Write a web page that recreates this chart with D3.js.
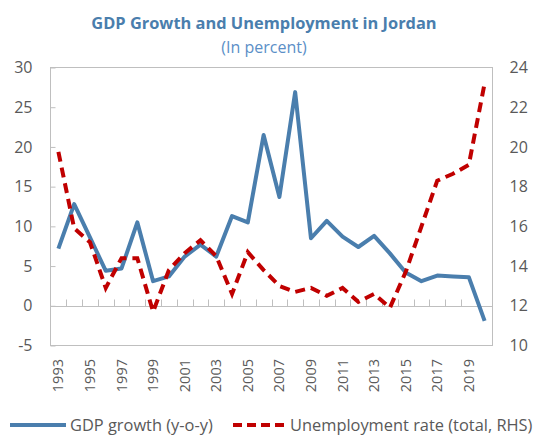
<!DOCTYPE html>
<html>
<head>
<meta charset="utf-8">
<script src="https://cdn.jsdelivr.net/npm/d3@7"></script>
<style>
  body { margin: 0; background: #fff; }
  text { font-family: "Open Sans", "Noto Sans", sans-serif; }
</style>
</head>
<body>
<div id="chart"></div>
<script>
// data
var years = d3.range(1993, 2021);
var gdpGrowth = [7.2, 12.8, 8.6, 4.4, 4.7, 10.5, 3.1, 3.7, 6.2, 7.7, 6.2, 11.3, 10.5, 21.5,
                 13.7, 26.9, 8.5, 10.7, 8.7, 7.4, 8.8, 6.6, 4.2, 3.1, 3.8, 3.7, 3.6, -1.9];
var unemployment = [19.75, 15.9, 15.2, 12.9, 14.4, 14.4, 11.7, 13.8, 14.65, 15.3, 14.5, 12.6, 14.7, 13.8,
                    13.0, 12.7, 12.9, 12.5, 12.9, 12.2, 12.6, 11.9, 13.7, 16.0, 18.3, 18.65, 19.1, 23.2];
var leftTicks = [-5, 0, 5, 10, 15, 20, 25, 30];
var rightTicks = [10, 12, 14, 16, 18, 20, 22, 24];
var yearLabels = years.filter(function(y) { return (y - 1993) % 2 == 0 && y < 2020; });

var w = 535, h = 435;
var pLeft = 50.5, pRight = 492.5, pTop = 67.5, pBottom = 345.5;

var svg = d3.select("#chart").append("svg")
  .attr("width", w)
  .attr("height", h);

var x = d3.scaleBand().domain(years).range([pLeft, pRight]);
var y = d3.scaleLinear().domain([-5, 30]).range([pBottom, pTop]);
var y2 = d3.scaleLinear().domain([10, 24]).range([pBottom, pTop]);

// title
svg.append("text")
  .attr("x", 264).attr("y", 29)
  .attr("text-anchor", "middle")
  .attr("font-size", 16.4).attr("font-weight", "bold")
  .attr("fill", "#4a7ead")
  .text("GDP Growth and Unemployment in Jordan");
svg.append("text")
  .attr("x", 264).attr("y", 53)
  .attr("text-anchor", "middle")
  .attr("font-size", 16)
  .attr("fill", "#5b8fc7")
  .text("(In percent)");

// plot frame
svg.append("rect")
  .attr("x", pLeft).attr("y", pTop)
  .attr("width", pRight - pLeft).attr("height", pBottom - pTop)
  .attr("fill", "none").attr("stroke", "#bfbfbf");

// left axis (plain hyphen for negatives, like the original)
var yAxis = d3.axisLeft(y).tickValues(leftTicks).tickSize(-5).tickPadding(18)
  .tickFormat(function(d) { return String(d); });
var gy = svg.append("g").attr("transform", "translate(" + pLeft + ",0)").call(yAxis);
gy.select(".domain").remove();
gy.selectAll("line").attr("stroke", "#bfbfbf");
gy.selectAll("text").attr("font-size", 16).attr("fill", "#595959")
  .attr("font-family", "Open Sans, sans-serif");

// right axis
var yAxis2 = d3.axisRight(y2).tickValues(rightTicks).tickSize(0).tickPadding(17);
var gy2 = svg.append("g").attr("transform", "translate(" + pRight + ",0)").call(yAxis2);
gy2.select(".domain").remove();
gy2.selectAll("text").attr("font-size", 16).attr("fill", "#595959")
  .attr("font-family", "Open Sans, sans-serif");

// zero line with category ticks
var zeroY = Math.round(y(0)) + 0.5;
svg.append("line")
  .attr("x1", pLeft).attr("x2", pRight)
  .attr("y1", zeroY).attr("y2", zeroY)
  .attr("stroke", "#bfbfbf");
svg.selectAll(".xtick")
  .data(years.slice(1))
  .enter().append("line")
  .attr("class", "xtick")
  .attr("x1", function(d) { return Math.round(x(d)) + 0.5; })
  .attr("x2", function(d) { return Math.round(x(d)) + 0.5; })
  .attr("y1", zeroY - 7)
  .attr("y2", zeroY)
  .attr("stroke", "#bfbfbf");

// year labels
svg.selectAll(".ylab")
  .data(yearLabels)
  .enter().append("text")
  .attr("class", "ylab")
  .attr("transform", function(d) {
    return "translate(" + (x(d) + x.bandwidth() / 2 + 5) + "," + 359 + ") rotate(-90)";
  })
  .attr("text-anchor", "end")
  .attr("font-size", 14.5)
  .attr("fill", "#595959")
  .text(function(d) { return d; });

// lines
var gdpLine = d3.line()
  .x(function(d, i) { return x(years[i]) + x.bandwidth() / 2; })
  .y(function(d) { return y(d); });
var unLine = d3.line()
  .x(function(d, i) { return x(years[i]) + x.bandwidth() / 2; })
  .y(function(d) { return y2(d); });

svg.append("path")
  .attr("d", gdpLine(gdpGrowth))
  .attr("fill", "none")
  .attr("stroke", "#4a7ead")
  .attr("stroke-width", 4)
  .attr("stroke-linejoin", "round");

svg.append("path")
  .attr("d", unLine(unemployment))
  .attr("fill", "none")
  .attr("stroke", "#c00000")
  .attr("stroke-width", 4)
  .attr("stroke-dasharray", "10,6");

// legend
var lg = svg.append("g");
lg.append("line")
  .attr("x1", 10).attr("x2", 66).attr("y1", 425).attr("y2", 425)
  .attr("stroke", "#4a7ead").attr("stroke-width", 4);
lg.append("text")
  .attr("x", 70).attr("y", 431)
  .attr("font-size", 16.4).attr("fill", "#595959")
  .text("GDP growth (y-o-y)");
lg.append("line")
  .attr("x1", 233).attr("x2", 285).attr("y1", 425).attr("y2", 425)
  .attr("stroke", "#c00000").attr("stroke-width", 4)
  .attr("stroke-dasharray", "9,5");
lg.append("text")
  .attr("x", 290).attr("y", 431)
  .attr("font-size", 16.4).attr("fill", "#595959")
  .text("Unemployment rate (total, RHS)");
</script>
</body>
</html>
